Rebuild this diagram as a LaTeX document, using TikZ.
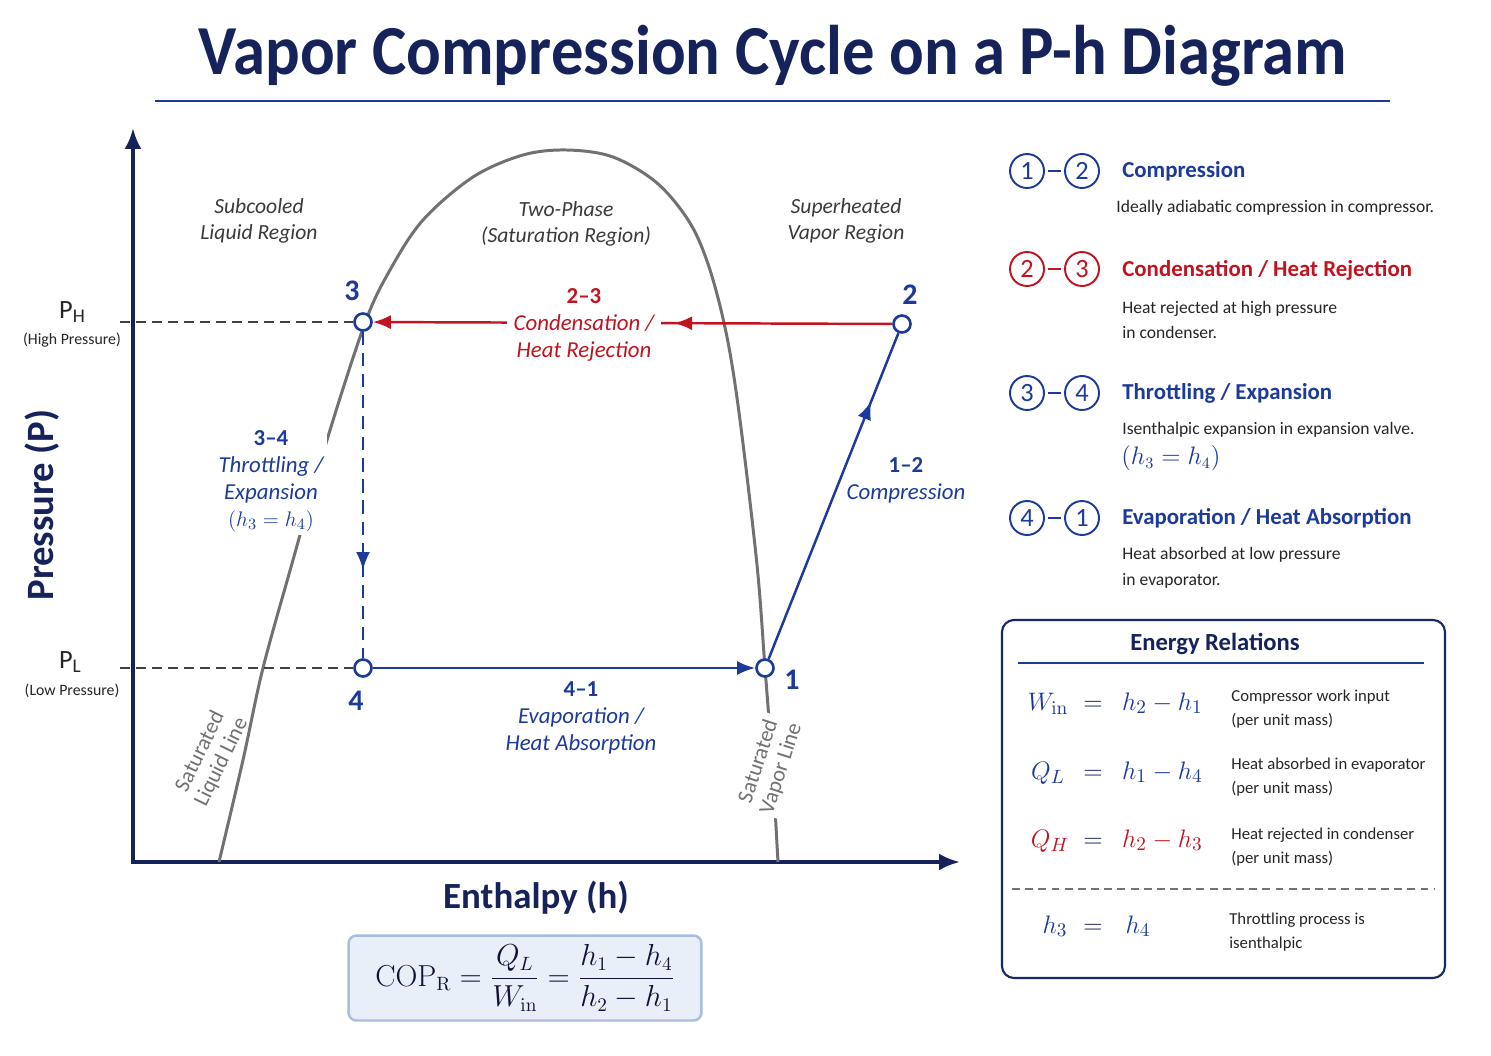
\documentclass[tikz,border=0pt]{standalone}
\usepackage{amsmath}
\usepackage[no-math]{fontspec}
\setmainfont{Carlito}
\usetikzlibrary{arrows.meta,decorations.markings}

\definecolor{navy}{HTML}{15235A}
\definecolor{cycblue}{HTML}{1B3A9A}
\definecolor{cycred}{HTML}{C01420}
\definecolor{domegray}{HTML}{717171}
\definecolor{regiongray}{HTML}{3A3A3A}
\definecolor{copfill}{HTML}{E9EFF9}
\definecolor{copedge}{HTML}{A8BDDF}

\newcommand{\fsz}[2]{\fontsize{#1}{#2}\selectfont}

\tikzset{
  axisline/.style={navy, line width=2.2pt, {Latex[length=0.42cm,width=0.34cm]}-{Latex[length=0.42cm,width=0.34cm]}},
  guide/.style={black!75, line width=1.1pt, dash pattern=on 5.5pt off 3.6pt},
  dome/.style={domegray, line width=1.7pt},
  cycline/.style={cycblue, line width=1.4pt},
  condline/.style={cycred, line width=1.4pt},
  tip/.style={-{Latex[length=0.36cm,width=0.28cm]}},
  midtip/.style={postaction={decorate}, decoration={markings, mark=at position #1 with {\arrow{Latex[length=0.36cm,width=0.28cm]}}}},
  statept/.style={circle, draw=cycblue, fill=white, line width=1.5pt, minimum size=0.34cm, inner sep=0pt},
  ptnum/.style={text=cycblue, font=\fsz{17}{20}\bfseries},
  proclab/.style={align=center, font=\fsz{13}{15.5}\itshape, inner sep=2pt},
  regionlab/.style={align=center, text=regiongray, font=\fsz{12.3}{15}\itshape},
  satlab/.style={align=center, text=domegray, font=\fsz{12.5}{13.5}},
  legnum/.style={circle, draw=#1, text=#1, line width=1.1pt, minimum size=0.68cm, inner sep=0pt, font=\fsz{15}{18}},
  legdash/.style={line width=1.1pt, shorten <=1.8pt, shorten >=1.8pt},
  legtitle/.style={anchor=west, inner xsep=0pt, font=\fsz{13}{16}\bfseries},
  legdesc/.style={anchor=west, align=left, inner xsep=0pt, text=black!85, font=\fsz{10}{14.7}},
  eqmath/.style={anchor=base, font=\fsz{15}{18}},
  eqdesc/.style={anchor=west, align=left, inner xsep=0pt, text=black!85, font=\fsz{9.5}{13.6}},
}

\begin{document}
\begin{tikzpicture}[x=0.02cm, y=-0.02cm]
  \fill[white] (0,0) rectangle (1491,1055);
  \useasboundingbox (0,0) rectangle (1491,1055);

  % title
  \node (title) at (773,56) {\scalebox{0.92}[1]{\fsz{40}{48}\bfseries\color{navy}Vapor Compression Cycle on a P-h Diagram}};
  \coordinate (ruleL) at (155,101);
  \coordinate (ruleR) at (1390,101);
  \draw[cycblue, line width=1.3pt] (ruleL) -- (ruleR);

  % axes
  \coordinate (ytip) at (133,128);
  \coordinate (origin) at (133,862);
  \coordinate (xtip) at (960,862);
  \draw[axisline] (ytip) -- (origin) -- (xtip);
  \node[text=navy, font=\fsz{22}{26}\bfseries, rotate=90] (ylab) at (42,505) {Pressure (P)};
  \node[text=navy, font=\fsz{21}{25}\bfseries] (xlab) at (536,898) {Enthalpy (h)};

  % saturation dome
  \draw[dome] plot[smooth, tension=0.55] coordinates {(219,862) (243,760) (263,668) (293,560) (327,440) (365,323) (390,270) (423,220) (473,177) (523,155) (567,150) (613,157) (657,183) (690,223) (710,270) (727,337) (740,420) (757,565) (765,668) (772,760) (778,862)};

  % regions
  \node[regionlab] (subcool) at (259,221) {Subcooled\\Liquid Region};
  \node[regionlab] (twophase) at (566,224) {Two-Phase\\(Saturation Region)};
  \node[regionlab] (superheat) at (846,221) {Superheated\\Vapor Region};

  % pressure levels
  \node[text=black!85, font=\fsz{15}{18}] (phlab) at (72,312) {P\raisebox{-0.35ex}{\fsz{11}{13}H}};
  \node[text=black!85, font=\fsz{9}{11}] (phnote) at (72,340) {(High Pressure)};
  \node[text=black!85, font=\fsz{15}{18}] (pllab) at (70,662) {P\raisebox{-0.35ex}{\fsz{11}{13}L}};
  \node[text=black!85, font=\fsz{9}{11}] (plnote) at (72,691) {(Low Pressure)};

  % state points
  \node[statept] (p1) at (765,668) {};
  \node[statept] (p2) at (902,324) {};
  \node[statept] (p3) at (363,322) {};
  \node[statept] (p4) at (363,668) {};

  \coordinate (phend) at (120,322);
  \coordinate (plend) at (120,668);
  \draw[guide] (phend) -- (p3);
  \draw[guide] (plend) -- (p4);

  % cycle
  \draw[cycline, midtip=0.79] (p1) -- (p2);
  \draw[condline, tip, midtip=0.42] (p2) -- (p3);
  \draw[cycline, dash pattern=on 7.5pt off 4.5pt, midtip=0.73] (p3) -- (p4);
  \draw[cycline, tip] (p4) -- (p1);

  \node[proclab, text=cycred, fill=white, inner xsep=4pt] (lab23) at (584,325) {{\upshape\bfseries 2--3}\\Condensation /\\Heat Rejection};
  \node[proclab, text=cycblue, fill=white] (lab34) at (271,481) {{\upshape\bfseries 3--4}\\Throttling /\\Expansion\\$(h_3 = h_4)$};
  \node[proclab, text=cycblue] (lab12) at (906,480) {{\upshape\bfseries 1--2}\\Compression};
  \node[proclab, text=cycblue] (lab41) at (581,718) {{\upshape\bfseries 4--1}\\Evaporation /\\Heat Absorption};

  \node[satlab, rotate=64] (satliq) at (211,757) {Saturated\\Liquid Line};
  \node[satlab, rotate=72, fill=white, inner sep=1pt] (satvap) at (770,765) {Saturated\\Vapor Line};

  \node[ptnum] (n3) at (352,291) {3};
  \node[ptnum] (n2) at (910,295) {2};
  \node[ptnum] (n4) at (356,701) {4};
  \node[ptnum] (n1) at (792,680) {1};

  % legend
  \node[legnum=cycblue] (c12a) at (1027,171) {1};
  \node[legnum=cycblue] (c12b) at (1082,171) {2};
  \draw[legdash, cycblue] (c12a) -- (c12b);
  \node[legtitle, text=cycblue] (t12) at (1122,171) {Compression};
  \node[legdesc] (d12) at (1116,208) {Ideally adiabatic compression in compressor.};

  \node[legnum=cycred] (c23a) at (1027,269) {2};
  \node[legnum=cycred] (c23b) at (1082,269) {3};
  \draw[legdash, cycred] (c23a) -- (c23b);
  \node[legtitle, text=cycred] (t23) at (1122,270) {Condensation / Heat Rejection};
  \node[legdesc] (d23) at (1122,320) {Heat rejected at high pressure\\in condenser.};

  \node[legnum=cycblue] (c34a) at (1027,393) {3};
  \node[legnum=cycblue] (c34b) at (1082,393) {4};
  \draw[legdash, cycblue] (c34a) -- (c34b);
  \node[legtitle, text=cycblue] (t34) at (1122,393) {Throttling / Expansion};
  \node[legdesc] (d34) at (1122,430) {Isenthalpic expansion in expansion valve.};
  \node[legdesc, text=cycblue, font=\fsz{13.5}{15}] (m34) at (1121,458) {$(h_3 = h_4)$};

  \node[legnum=cycblue] (c41a) at (1027,518) {4};
  \node[legnum=cycblue] (c41b) at (1082,518) {1};
  \draw[legdash, cycblue] (c41a) -- (c41b);
  \node[legtitle, text=cycblue] (t41) at (1122,518) {Evaporation / Heat Absorption};
  \node[legdesc] (d41) at (1122,568) {Heat absorbed at low pressure\\in evaporator.};

  % energy relations
  \draw[navy!80!cycblue, line width=1.2pt, rounded corners=0.24cm] (1002,620) rectangle (1445,978);
  \node[text=navy, font=\fsz{14}{17}\bfseries] (etitle) at (1215,644) {Energy Relations};
  \coordinate (eruleL) at (1018,663);
  \coordinate (eruleR) at (1424,663);
  \draw[cycblue, line width=1.3pt] (eruleL) -- (eruleR);

  \node[eqmath, text=cycblue] (win) at (1048,710) {$W_{\mathrm{in}}$};
  \node[eqmath, text=navy] (eqw) at (1093,710) {$=$};
  \node[eqmath, anchor=base west, text=cycblue] (wrhs) at (1116,710) {$h_2 - h_1$};
  \node[eqdesc] (wdesc) at (1231,709) {Compressor work input\\(per unit mass)};

  \node[eqmath, text=cycblue] (ql) at (1048,779) {$Q_L$};
  \node[eqmath, text=navy] (eqql) at (1093,779) {$=$};
  \node[eqmath, anchor=base west, text=cycblue] (qlrhs) at (1116,779) {$h_1 - h_4$};
  \node[eqdesc] (qldesc) at (1231,777) {Heat absorbed in evaporator\\(per unit mass)};

  \node[eqmath, text=cycred] (qh) at (1050,847) {$Q_H$};
  \node[eqmath, text=navy] (eqqh) at (1093,847) {$=$};
  \node[eqmath, anchor=base west, text=cycred] (qhrhs) at (1116,847) {$h_2 - h_3$};
  \node[eqdesc] (qhdesc) at (1231,847) {Heat rejected in condenser\\(per unit mass)};

  \coordinate (sepL) at (1012,889);
  \coordinate (sepR) at (1435,889);
  \draw[black!55, line width=1pt, dash pattern=on 4.5pt off 3pt] (sepL) -- (sepR);

  \node[eqmath, text=cycblue] (h3) at (1055,933) {$h_3$};
  \node[eqmath, text=navy] (eqh) at (1093,933) {$=$};
  \node[eqmath, text=cycblue] (h4) at (1138,933) {$h_4$};
  \node[eqdesc] (hdesc) at (1229,932) {Throttling process is\\isenthalpic};

  % COP
  \node[draw=copedge, fill=copfill, line width=1.4pt, rounded corners=0.16cm, minimum width=7.06cm, minimum height=1.7cm, font=\fsz{16}{19}, text=navy!60!black] (cop) at (525,978) {$\mathrm{COP}_{\mathrm{R}} = \dfrac{Q_L}{W_{\mathrm{in}}} = \dfrac{h_1 - h_4}{h_2 - h_1}$};
\end{tikzpicture}
\end{document}
